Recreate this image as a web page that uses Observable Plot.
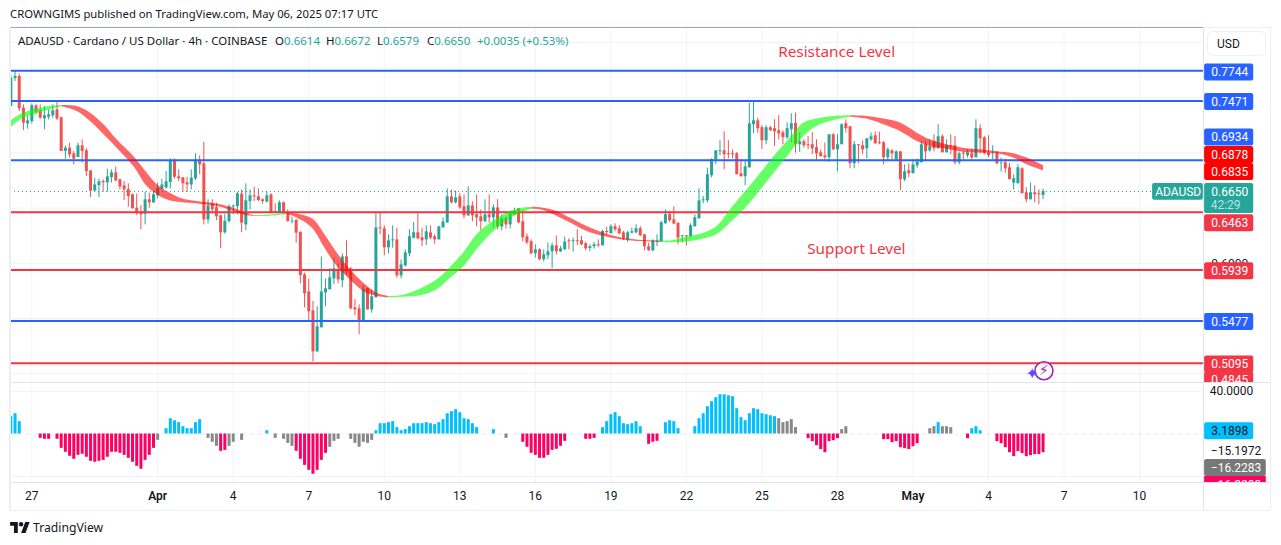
<!DOCTYPE html>
<html>
<head>
<meta charset="utf-8">
<script src="https://cdn.jsdelivr.net/npm/d3@7"></script>
<script src="https://cdn.jsdelivr.net/npm/@observablehq/plot@0.6"></script>
<style>
html,body{margin:0;padding:0;background:#fff;}
#page{position:relative;width:1281px;height:545px;overflow:hidden;font-family:"Noto Sans",sans-serif;color:#131722;}
#main,#lower{position:absolute;left:0;}
#main{top:0;} #lower{top:383px;}
.t{position:absolute;white-space:nowrap;}
.q{position:absolute;white-space:nowrap;top:33px;font-size:11.5px;line-height:16px;}
.g{color:#26a69a;}
.line{position:absolute;background:#e0e3eb;}
</style>
</head>
<body>
<div id="page">
  <div id="main"></div>
  <div id="lower"></div>
  <div class="line" style="left:10px;top:27px;width:1193px;height:1px;background:#8fa6e3"></div>
  <div class="line" style="left:1203px;top:27px;width:67px;height:1px;background:#eceef2"></div>
  <div class="line" style="left:9px;top:27px;width:2px;height:483px;background:#eceef2"></div>
  <div class="line" style="left:1270px;top:27px;width:1px;height:483px;background:#eceef2"></div>
  <div class="line" style="left:10px;top:510px;width:1260px;height:1px;background:#eceef2"></div>
  <div class="line" style="left:1203px;top:27px;width:1px;height:483px"></div>
  <div class="line" style="left:10px;top:382px;width:1260px;height:1px"></div>
  <div class="line" style="left:10px;top:482px;width:1260px;height:1px"></div>
  <div class="t" style="left:10px;top:6px;font-size:11.3px;line-height:16px">CROWNGIMS published on TradingView.com, May 06, 2025 07:17 UTC</div>
  <div class="q" style="left:18px">ADAUSD · Cardano / US Dollar · 4h · COINBASE</div>
  <div class="q" style="left:275px">O<span class="g">0.6614</span></div>
  <div class="q" style="left:326px">H<span class="g">0.6672</span></div>
  <div class="q" style="left:377px">L<span class="g">0.6579</span></div>
  <div class="q" style="left:427px">C<span class="g">0.6650</span></div>
  <div class="q g" style="left:477px">+0.0035 (+0.53%)</div>
  <div class="t" style="left:1207px;top:31px;width:59px;height:25px;border:1px solid #eef0f3;border-radius:6px;font-size:12px;line-height:25px;padding-left:9px;box-sizing:border-box;font-family:Roboto">USD</div>
  <svg style="position:absolute;left:10px;top:522px" width="20" height="11" viewBox="0 0 36 20"><path fill="#131722" d="M14 20H7V7H0V0h14v20zM28 20h-8l7.5-20h8L28 20z"/><circle cx="20" cy="4" r="4" fill="#131722"/></svg>
  <div class="t" style="left:33px;top:518px;font-size:12.2px;line-height:19px;color:#131722">TradingView</div>
</div>
<script>
// Candles, one value per 4h bar, first bar = index -5 (26 Mar 04:00)
const opens = [
.7420,.7674,.7692,.7405,.7263,.7284,.7426,.7384,.7308,.7324,
.7336,.7390,.7318,.7013,.7043,.6991,.6958,.7064,.7019,.6837,
.6656,.6704,.6741,.6729,.6777,.6819,.6756,.6701,.6668,.6620,
.6499,.6466,.6445,.6575,.6547,.6611,.6671,.6683,.6732,.6922,
.6783,.6774,.6729,.6710,.6765,.6928,.6901,.6393,.6535,.6505,
.6430,.6276,.6378,.6511,.6514,.6626,.6348,.6559,.6611,.6602,
.6575,.6556,.6620,.6469,.6460,.6548,.6460,.6375,.6388,.6279,
.5895,.5741,.5569,.5198,.5415,.5732,.5759,.5859,.5941,.5841,
.6058,.5950,.5596,.5587,.5479,.5768,.5578,.5687,.6321,.6312,
.6140,.6203,.6212,.5886,.5977,.6086,.6227,.6276,.6231,.6212,
.6276,.6240,.6212,.6321,.6366,.6602,.6548,.6602,.6511,.6430,
.6520,.6439,.6421,.6376,.6439,.6412,.6502,.6330,.6409,.6348,
.6439,.6493,.6376,.6240,.6195,.6086,.6122,.6032,.6068,.6104,
.6159,.6104,.6122,.6204,.6195,.6204,.6204,.6177,.6134,.6150,
.6168,.6159,.6288,.6267,.6331,.6313,.6276,.6213,.6273,.6276,
.6313,.6258,.6150,.6113,.6195,.6195,.6358,.6440,.6394,.6364,
.6240,.6249,.6240,.6331,.6403,.6566,.6566,.6793,.6938,.7010,
.7019,.6992,.6992,.6992,.6811,.6784,.6865,.7255,.7291,.7228,
.7110,.7228,.7219,.7201,.7182,.7137,.7210,.7267,.7074,.7101,
.7074,.7074,.7047,.7001,.6974,.6956,.7164,.7028,.7074,.7264,
.7237,.6902,.7074,.7065,.7037,.7119,.7155,.7092,.7092,.6956,
.7019,.6938,.7010,.6757,.6838,.6811,.6883,.6911,.7074,.7019,
.7101,.7037,.7146,.7001,.7065,.7065,.6911,.6998,.6974,.6992,
.6956,.7219,.7137,.7001,.6992,.7001,.6902,.6911,.6865,.6726,
.6720,.6856,.6639,.6575,.6639,.6630,.6614];
const highs = [
.7707,.7737,.7716,.7435,.7330,.7444,.7435,.7435,.7420,.7390,
.7435,.7462,.7324,.7064,.7088,.7013,.7088,.7118,.7037,.6837,
.6771,.6762,.6756,.6852,.6846,.6871,.6762,.6741,.6720,.6629,
.6626,.6523,.6644,.6635,.6650,.6726,.6762,.6831,.6946,.6946,
.6846,.6777,.6780,.6846,.6991,.6973,.7097,.6575,.6575,.6544,
.6439,.6445,.6529,.6526,.6644,.6665,.6720,.6665,.6689,.6674,
.6584,.6650,.6629,.6539,.6566,.6554,.6484,.6418,.6400,.6288,
.5910,.5856,.5654,.5608,.6058,.5856,.5950,.6049,.5995,.6086,
.6203,.5962,.5669,.5623,.5796,.5774,.5759,.6448,.6466,.6339,
.6258,.6339,.6318,.6031,.6122,.6303,.6369,.6448,.6318,.6339,
.6339,.6258,.6333,.6412,.6674,.6665,.6656,.6629,.6620,.6693,
.6557,.6620,.6484,.6575,.6620,.6530,.6575,.6439,.6421,.6475,
.6499,.6493,.6476,.6267,.6213,.6168,.6131,.6122,.6183,.6183,
.6249,.6153,.6237,.6222,.6228,.6304,.6243,.6189,.6168,.6189,
.6213,.6298,.6325,.6349,.6358,.6340,.6288,.6288,.6319,.6349,
.6334,.6261,.6183,.6213,.6258,.6379,.6485,.6470,.6512,.6364,
.6249,.6249,.6358,.6439,.6675,.6606,.6862,.6947,.7019,.7110,
.7191,.7110,.7028,.7004,.6938,.6923,.7451,.7466,.7315,.7246,
.7246,.7240,.7300,.7336,.7201,.7273,.7355,.7361,.7185,.7119,
.7149,.7185,.7119,.7028,.7089,.7164,.7173,.7164,.7264,.7300,
.7237,.7104,.7074,.7110,.7128,.7182,.7191,.7188,.7101,.7047,
.7028,.7019,.7010,.6892,.6902,.6938,.6944,.7104,.7104,.7119,
.7164,.7255,.7164,.7119,.7164,.7149,.7010,.7010,.7028,.7034,
.7300,.7255,.7149,.7155,.7065,.7013,.6953,.6944,.6902,.6802,
.6892,.6865,.6684,.6726,.6702,.6666,.6672];
const lows = [
.7420,.7647,.7375,.7203,.7215,.7263,.7345,.7305,.7209,.7299,
.7315,.7293,.7013,.6943,.6952,.6892,.6958,.6907,.6786,.6596,
.6641,.6596,.6644,.6644,.6726,.6738,.6665,.6569,.6508,.6493,
.6433,.6303,.6348,.6499,.6544,.6584,.6665,.6671,.6674,.6762,
.6741,.6641,.6641,.6665,.6750,.6801,.6348,.6357,.6454,.6387,
.6131,.6264,.6363,.6439,.6439,.6279,.6297,.6484,.6559,.6559,
.6535,.6544,.6454,.6454,.6454,.6439,.6372,.6357,.6182,.5814,
.5596,.5482,.5107,.5192,.5415,.5605,.5759,.5805,.5814,.5778,
.5895,.5578,.5524,.5352,.5479,.5578,.5548,.5687,.6258,.6067,
.6086,.6137,.5865,.5859,.5965,.6058,.6221,.6212,.6152,.6161,
.6212,.6173,.6212,.6318,.6363,.6539,.6539,.6490,.6403,.6424,
.6376,.6330,.6294,.6369,.6363,.6318,.6303,.6294,.6309,.6312,
.6430,.6357,.6195,.6168,.6077,.6047,.6023,.6011,.6032,.5950,
.6077,.6098,.6116,.6122,.6101,.6159,.6159,.6113,.6104,.6128,
.6141,.6159,.6258,.6267,.6285,.6258,.6207,.6189,.6267,.6267,
.6240,.6113,.6107,.6104,.6153,.6189,.6355,.6370,.6349,.6168,
.6183,.6159,.6228,.6328,.6400,.6539,.6545,.6775,.6892,.6974,
.6847,.6947,.6947,.6802,.6781,.6702,.6862,.7173,.7179,.7034,
.7074,.7195,.7059,.7119,.7074,.7119,.7089,.6998,.7004,.7043,
.7028,.6983,.6920,.6965,.6920,.6914,.7019,.6829,.7074,.7179,
.6856,.6856,.6902,.6983,.6947,.7104,.7074,.7074,.6892,.6920,
.6938,.6929,.6657,.6739,.6775,.6811,.6862,.6911,.6929,.7007,
.7010,.7034,.7001,.7001,.6983,.6892,.6892,.6938,.6953,.6938,
.6956,.6992,.6983,.6956,.6938,.6892,.6826,.6817,.6757,.6666,
.6720,.6630,.6548,.6575,.6548,.6530,.6579];
const closes = [
.7677,.7692,.7399,.7269,.7290,.7426,.7369,.7315,.7336,.7345,
.7381,.7308,.7013,.7043,.6982,.6943,.7064,.7013,.6831,.6653,
.6710,.6738,.6729,.6783,.6819,.6747,.6692,.6665,.6605,.6493,
.6454,.6439,.6575,.6547,.6620,.6680,.6710,.6738,.6922,.6780,
.6765,.6720,.6710,.6771,.6937,.6892,.6393,.6520,.6484,.6421,
.6276,.6381,.6511,.6520,.6629,.6363,.6566,.6611,.6602,.6569,
.6559,.6611,.6454,.6454,.6548,.6460,.6378,.6381,.6273,.5889,
.5723,.5560,.5198,.5424,.5741,.5768,.5868,.5950,.5850,.6058,
.5923,.5587,.5578,.5476,.5759,.5578,.5696,.6321,.6312,.6140,
.6203,.6212,.5886,.5986,.6095,.6240,.6276,.6221,.6203,.6285,
.6228,.6212,.6330,.6375,.6602,.6548,.6593,.6502,.6430,.6520,
.6430,.6412,.6376,.6439,.6412,.6502,.6330,.6403,.6348,.6448,
.6466,.6366,.6231,.6186,.6086,.6122,.6032,.6077,.6104,.6159,
.6104,.6131,.6192,.6195,.6204,.6195,.6168,.6131,.6150,.6168,
.6159,.6288,.6279,.6331,.6304,.6267,.6222,.6276,.6285,.6313,
.6249,.6150,.6113,.6204,.6204,.6367,.6440,.6385,.6355,.6228,
.6249,.6240,.6340,.6412,.6566,.6575,.6802,.6938,.7019,.7019,
.6983,.6983,.6983,.6802,.6784,.6874,.7264,.7291,.7219,.7110,
.7228,.7201,.7191,.7173,.7137,.7219,.7264,.7074,.7101,.7065,
.7065,.7037,.6992,.6965,.6956,.7164,.7028,.7074,.7255,.7219,
.6902,.7074,.7065,.7028,.7128,.7146,.7083,.7083,.6956,.7028,
.6992,.7010,.6757,.6829,.6811,.6892,.6920,.7074,.7010,.7056,
.7037,.7146,.7001,.7065,.7053,.6911,.6992,.6989,.7001,.6953,
.7219,.7128,.6992,.6974,.7001,.6902,.6908,.6856,.6757,.6766,
.6865,.6630,.6575,.6639,.6621,.6621,.6650];
const momentum = [
16.3,19.1,11.6,0,0,0,0,-4.1,-5,-5,
0,-5,-13.5,-17.2,-21,-23.8,-20.1,-19.1,-21.9,-25.7,
-26.6,-25.7,-24.8,-21.9,-17.2,-17.2,-18.2,-20.1,-22.9,-26.6,
-30.4,-33.2,-24.8,-20.1,-13.5,-6,0,5,14.4,12.5,
10.7,6.9,5,5,10.7,13.5,0,-4.1,-7.8,-11.6,
-16.3,-15.4,-11.6,-7.8,0,-6,0,0,0,0,
0,3.1,0,-4.1,0,-5,-8.8,-11.6,-16.3,-23.8,
-29.5,-34.2,-37.9,-34.2,-24.8,-18.2,-12.5,-6.9,-5,0,
0,-5,-8.8,-12.5,-7.8,-8.8,-6,3.1,9.7,9.7,
10.7,11.6,6,3.1,4.1,6.9,9.7,9.7,9.7,10.7,
9.7,8.8,10.7,13.5,19.1,21,22.9,20.1,14.4,13.5,
9.7,6,0,0,0,4.1,0,0,-4.1,0,
0,0,-7.8,-12.5,-18.2,-20.1,-22.9,-22.9,-20.1,-15.4,
-14.4,-11.6,-6.9,0,0,0,0,-5,-5,-4.1,
0,6,11.6,18.2,20.1,16.3,9.7,8.8,9.7,11.6,
6.9,0,-9.7,-7.8,-6.9,0,10.7,12.5,11.6,5,
0,0,0,6.9,14.4,19.1,25.7,30.4,34.2,37,
37,36,35.1,23.8,15.4,12.5,19.1,23.8,22.9,19.1,
18.2,17.2,16.3,14.4,10.7,11.6,13.5,6,0,0,
-4.4,-7.2,-11,-14.7,-17.6,-7.2,-6.3,-4.4,4.1,6.9,
0,0,0,0,0,0,0,0,-5.3,-5.3,
-8.2,-7.2,-12.9,-13.8,-14.7,-11.9,-9.1,0,0,5,
6.9,10.7,6.9,6.9,6,0,0,0,-4.4,5,
6.9,3.1,0,0,0,-7.2,-9.1,-12.9,-17.6,-21.3,
-16.6,-18.5,-21.3,-20.4,-19.4,-19.4,-17.6];
const grayBars = [30,42,43,44,47,48,50,58,60,61,62,71,72,73,76,77,78,79,80,81,113,178,179,180,181,182,193,194,214,215,217,218,219];

// Hull ribbon
const ribbonBars = [-5.08,-2.7,.5,4.4,7.2,10.8,14,17.2,20.3,24.3,27.5,29.9,32.2,35.4,39.4,44.2,48.1,51.3,52.9,56.1,60.8,61.6,64.8,67.2,69.6,72.8,75.9,79.1,82.3,85.1,88.6,92.6,96.6,99.8,102.9,106.1,109.3,112.5,115.6,119.2,121.2,124.4,128.4,132.3,136.3,140.3,144.2,149.8,153,156.2,160.1,163.3,166.5,170.5,174.4,177.6,180.8,184,187.1,191.1,195.1,199,203,207,211,214.1,218.1,222,226,230,234,237.2,241.1];
const ribbonUpper = [.7284,.7345,.7390,.7420,.7429,.7420,.7360,.7254,.7118,.6967,.6816,.6711,.6650,.6590,.6560,.6538,.6499,.6448,.6433,.6436,.6454,.6454,.6433,.6394,.6273,.6092,.5941,.5820,.5729,.5699,.5711,.5765,.5850,.5965,.6092,.6258,.6363,.6439,.6490,.6508,.6503,.6479,.6409,.6334,.6273,.6231,.6210,.6198,.6207,.6237,.6273,.6334,.6485,.6666,.6847,.6998,.7134,.7270,.7306,.7330,.7336,.7330,.7306,.7270,.7179,.7119,.7074,.7043,.7028,.7010,.6992,.6953,.6883];
const ribbonLower = [.7224,.7299,.7345,.7390,.7417,.7375,.7284,.7164,.7043,.6877,.6695,.6620,.6575,.6550,.6538,.6514,.6469,.6430,.6424,.6424,.6442,.6436,.6378,.6303,.6152,.5971,.5850,.5744,.5699,.5687,.5693,.5705,.5760,.5865,.5965,.6122,.6258,.6363,.6439,.6490,.6485,.6439,.6364,.6288,.6243,.6213,.6198,.6189,.6186,.6192,.6219,.6258,.6364,.6515,.6696,.6847,.6998,.7149,.7240,.7294,.7324,.7306,.7255,.7194,.7104,.7059,.7034,.7007,.6998,.6992,.6953,.6893,.6838];
const ribbonFlips = [-5.08,7.2,52.9,60.8,85.1,119.2,149.8,195.1,241.1];

const blueLevels = [.7744,.7471,.6934,.5477];
const redLevels = [.6463,.5939,.5095];
const lastPrice = .6650;
const priceGrid = [.8,.75,.7,.65,.6,.55,.5];
const tickBars = [0,30,48,66,84,102,120,138,156,174,192,210,228,246,264];
const tickNames = ["27","Apr","4","7","10","13","16","19","22","25","28","May","4","7","10"];

// Price-scale tags: label, height on the scale where it is displayed, colour
const tagLabels = ["0.7744","0.7471","0.6934","0.6878","0.6835","0.6463","0.5939","0.5477","0.5095","0.4845"];
const tagHeights = [.7729,.7461,.7140,.6981,.6827,.6363,.5928,.5468,.5083,.4938];
const tagColors = ["#2962ff","#2962ff","#2962ff","#ff0000","#ff0000","#f23645","#f23645","#2962ff","#f23645","#f23645"];
const annotations = ["Resistance Level","Support Level"];
const annotationBars = [191.8,196.5];
const annotationPrices = [.7914,.6125];

const firstBar = -5;
const candles = opens.map((o,i)=>({bar:i+firstBar,o,h:highs[i],l:lows[i],c:closes[i]}));
const up = candles.filter(d=>d.c>=d.o), down = candles.filter(d=>d.c<d.o);
const ribbonRows = ribbonBars.map((bar,i)=>({bar,upper:ribbonUpper[i],lower:ribbonLower[i]}));
const segs = d3.pairs(ribbonFlips).map(([a,b],k)=>({k,rows:ribbonRows.filter(r=>r.bar>=a&&r.bar<=b)}));
const bars = momentum.map((v,i)=>({bar:i+firstBar,v})).filter(d=>d.v!==0);
const isGray = d=>grayBars.includes(d.bar);
const ticks = tickNames.map((name,i)=>({name,bar:tickBars[i]}));
const isMonth = d=>d.name==="Apr"||d.name==="May";

const TEAL="#26a69a", RED="#ef5350", GRID="#f2f3f6", FONT="Roboto";
const xDomain=[-5.08,295.2], left=-5.08, sep=279.2;
const tagL=279.5, tagR=291.2, tagC=285.5;
const tags = tagLabels.map((t,i)=>({t,at:tagHeights[i],c:tagColors[i]}));
const tagH=.0077;
const yTop=.8136, yBottom=.4920;

const main = Plot.plot({
  width:1281,height:383,marginTop:27,marginBottom:1,marginLeft:10,marginRight:11,
  style:{fontFamily:FONT,background:"white"},
  x:{domain:xDomain,range:[10,1270],axis:null},
  y:{domain:[yBottom,yTop],range:[382,27],axis:null},
  marks:[
    Plot.ruleX(tickBars,{y1:yBottom,y2:yTop,stroke:GRID}),
    Plot.ruleY(priceGrid,{x1:left,x2:sep,stroke:GRID}),
    Plot.ruleX(up,{x:"bar",y1:"l",y2:"h",stroke:TEAL,strokeWidth:1}),
    Plot.ruleX(down,{x:"bar",y1:"l",y2:"h",stroke:RED,strokeWidth:1}),
    Plot.ruleX(up,{x:"bar",y1:"o",y2:"c",stroke:TEAL,strokeWidth:3}),
    Plot.ruleX(down,{x:"bar",y1:"o",y2:"c",stroke:RED,strokeWidth:3}),
    Plot.ruleY(blueLevels,{x1:left,x2:sep,stroke:"#2962ff",strokeWidth:2}),
    Plot.ruleY(redLevels,{x1:left,x2:sep,stroke:"#f23645",strokeWidth:2}),
    Plot.ruleY([lastPrice],{x1:left,x2:sep,stroke:TEAL,strokeWidth:1,strokeDasharray:"1,3"}),
    ...segs.map(s=>Plot.areaY(s.rows,{x:"bar",y1:"lower",y2:"upper",curve:"catmull-rom",
      fill:s.k%2===0?"#00ff00":"#ff0000",fillOpacity:.6})),
    Plot.text(annotations,{x:(d,i)=>annotationBars[i],y:(d,i)=>annotationPrices[i],text:d=>d,fill:"#f23645",fontSize:15.3,fontFamily:"Noto Sans"}),
    Plot.text(["0.6000"],{x:[tagC],y:[.5994],text:d=>d,fill:"#131722",fontSize:12}),
    Plot.rect(tags,{x1:tagL,x2:tagR,y1:d=>d.at-tagH,y2:d=>d.at+tagH,fill:d=>d.c,rx:2}),
    Plot.text(tags,{x:tagC,y:"at",text:"t",fill:"white",fontSize:12}),
    Plot.rect([0],{x1:[tagL],x2:[tagR],y1:[.6451],y2:[.6723],fill:TEAL,rx:2}),
    Plot.text(["0.6650"],{x:[tagC],y:[.6641],text:d=>d,fill:"white",fontSize:12}),
    Plot.text(["42:29"],{x:[tagC-1],y:[.6524],text:d=>d,fill:"#b9e3dd",fontSize:12}),
    Plot.rect([0],{x1:[267.1],x2:[279.2],y1:[.6571],y2:[.6723],fill:TEAL,rx:2}),
    Plot.text(["ADAUSD"],{x:[273.2],y:[.6645],text:d=>d,fill:"white",fontSize:12}),
    Plot.dot([0],{x:[241.2],y:[.5026],r:9,stroke:"#9c27b0",strokeWidth:1.6,fill:"white",fillOpacity:.6}),
    Plot.text(["⚡"],{x:[241.2],y:[.5026],text:d=>d,fill:"#9c27b0",fontSize:14,fontFamily:"DejaVu Sans"}),
    Plot.text(["✦"],{x:[238.4],y:[.4999],text:d=>d,fill:"#5b4bff",fontSize:16,fontFamily:"DejaVu Sans"})
  ]
});
document.getElementById("main").appendChild(main);

const lower = Plot.plot({
  width:1281,height:127,marginTop:0,marginBottom:28,marginLeft:10,marginRight:11,
  style:{fontFamily:FONT,background:"white"},
  x:{domain:xDomain,range:[10,1270],axis:null},
  y:{domain:[47.53,-45.65],range:[0,99],axis:null},
  marks:[
    Plot.ruleX(tickBars,{y1:47.53,y2:-45.65,stroke:GRID}),
    Plot.ruleY([40,-40],{x1:left,x2:sep,stroke:GRID}),
    Plot.ruleY([0],{x1:left,x2:sep,stroke:"#e6e8ee",strokeDasharray:"4,4"}),
    Plot.ruleX(bars.filter(d=>!isGray(d)&&d.v>0),{x:"bar",y1:0,y2:"v",stroke:"#00bfff",strokeWidth:3}),
    Plot.ruleX(bars.filter(d=>!isGray(d)&&d.v<0),{x:"bar",y1:0,y2:"v",stroke:"#ff0062",strokeWidth:3}),
    Plot.ruleX(bars.filter(isGray),{x:"bar",y1:0,y2:"v",stroke:"#888888",strokeWidth:3}),
    Plot.text(["40.0000"],{x:[285.9],y:[40.5],text:d=>d,fill:"#131722",fontSize:12}),
    Plot.rect([0],{x1:[tagL],x2:[tagR],y1:[-5.4],y2:[10.6],fill:"#00bfff",rx:2}),
    Plot.text(["3.1898"],{x:[tagC],y:[2.6],text:d=>d,fill:"#131722",fontSize:12}),
    Plot.text(["−15.1972"],{x:[287],y:[-16.5],text:d=>d,fill:"#131722",fontSize:12}),
    Plot.rect([0],{x1:[tagL],x2:[294.2],y1:[-40],y2:[-24],fill:"#787878",rx:2}),
    Plot.text(["−16.2283"],{x:[287],y:[-32],text:d=>d,fill:"white",fontSize:12}),
    Plot.rect([0],{x1:[tagL],x2:[294.2],y1:[-56],y2:[-40],fill:"#ff0062"}),
    Plot.text(["−16.2283"],{x:[287],y:[-48.5],text:d=>d,fill:"white",fontSize:12}),
    Plot.rect([0],{x1:[-5.08],x2:[295.2],y1:[-45.65],y2:[-72],fill:"white"}),
    Plot.text(ticks.filter(d=>!isMonth(d)),{x:"bar",y:-58.8,text:"name",fill:"#131722",fontSize:12}),
    Plot.text(ticks.filter(isMonth),{x:"bar",y:-58.8,text:"name",fill:"#131722",fontSize:12,fontWeight:600})
  ]
});
document.getElementById("lower").appendChild(lower);
</script>
</body>
</html>
